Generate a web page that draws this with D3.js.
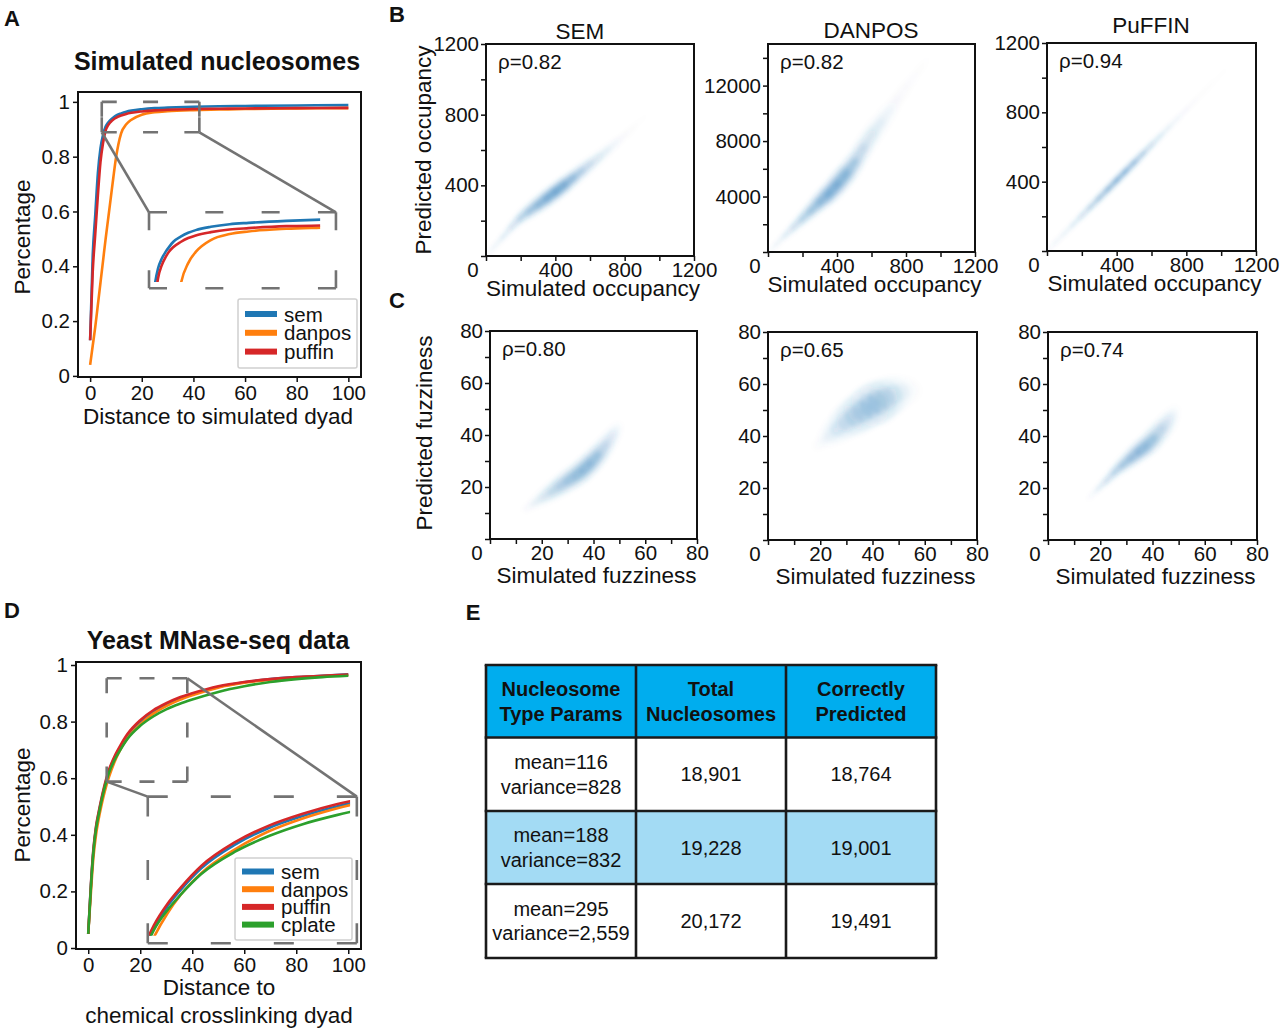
<!DOCTYPE html>
<html>
<head>
<meta charset="utf-8">
<script src="https://cdn.jsdelivr.net/npm/d3@7"></script>
<style>
  body { margin: 0; background: #fff; }
  text { font-family: "Liberation Sans", Arial, Helvetica, sans-serif; }
</style>
</head>
<body>
<svg id="fig" width="1280" height="1028"></svg>
<script>
// ---------- data ----------
// A: simulated nucleosomes, fraction of calls within distance of simulated dyad
const distA = [0, 1, 2, 3, 4, 5, 6, 7, 8, 9, 10, 12, 14, 16, 20, 25, 30, 40, 50, 60, 80, 100];
const semA = [0.13, 0.44, 0.59, 0.74, 0.83, 0.88, 0.91, 0.925, 0.935, 0.943, 0.95, 0.958, 0.964, 0.968, 0.973, 0.977, 0.979, 0.982, 0.984, 0.985, 0.987, 0.988];
const danposA = [0.04, 0.11, 0.18, 0.26, 0.34, 0.42, 0.5, 0.575, 0.65, 0.725, 0.795, 0.885, 0.918, 0.935, 0.953, 0.962, 0.966, 0.97, 0.972, 0.974, 0.976, 0.977];
const puffinA = [0.13, 0.38, 0.52, 0.66, 0.78, 0.85, 0.895, 0.915, 0.927, 0.936, 0.942, 0.95, 0.956, 0.96, 0.965, 0.969, 0.971, 0.974, 0.975, 0.976, 0.977, 0.978];

// D: yeast MNase-seq vs chemical crosslinking dyads
const distD = [0, 1, 2, 3, 4, 5, 6, 7, 8, 10, 12, 15, 20, 25, 30, 35, 40, 50, 60, 70, 80, 90, 100];
const semD = [0.05, 0.215, 0.345, 0.425, 0.475, 0.52, 0.56, 0.595, 0.625, 0.67, 0.705, 0.75, 0.8, 0.835, 0.86, 0.88, 0.896, 0.922, 0.939, 0.95, 0.957, 0.962, 0.967];
const danposD = [0.05, 0.19, 0.32, 0.4, 0.455, 0.5, 0.54, 0.575, 0.605, 0.655, 0.695, 0.74, 0.79, 0.828, 0.855, 0.876, 0.893, 0.92, 0.937, 0.948, 0.955, 0.96, 0.964];
const puffinD = [0.05, 0.22, 0.35, 0.43, 0.48, 0.525, 0.565, 0.6, 0.63, 0.675, 0.71, 0.755, 0.805, 0.84, 0.865, 0.885, 0.9, 0.925, 0.94, 0.95, 0.957, 0.962, 0.966];
const cplateD = [0.05, 0.21, 0.34, 0.42, 0.47, 0.515, 0.555, 0.59, 0.62, 0.662, 0.695, 0.738, 0.785, 0.818, 0.843, 0.862, 0.878, 0.905, 0.925, 0.94, 0.95, 0.957, 0.962];

// B/C: density ridges read off the scatter clouds [simulated, predicted, spread, relative density]
const semOcc = [[25,27,10,0.1],[75,82,13,0.16],[125,137,17,0.24],[175,192,22,0.34],[225,235,27,0.5],[275,272,31,0.66],[325,308,34,0.82],[375,345,35,0.97],[425,382,35,1.0],[475,421,33,0.8],[525,460,31,0.56],[575,500,29,0.38],[625,538,27,0.25],[675,578,25,0.16],[725,620,23,0.1],[775,662,20,0.06],[825,705,18,0.04],[875,752,15,0.025]];
const danposOcc = [[25,250,110,0.1],[75,900,170,0.15],[125,1500,240,0.24],[175,2100,320,0.36],[225,2700,400,0.5],[275,3300,480,0.64],[325,3900,560,0.78],[375,4500,630,0.9],[425,5250,700,0.85],[475,6000,740,0.62],[525,6950,760,0.4],[575,7950,760,0.25],[625,8850,720,0.15],[675,9700,660,0.1],[725,10550,600,0.06],[775,11450,540,0.04],[825,12300,480,0.03],[875,13100,420,0.02]];
const puffinOcc = [[25,25,7,0.1],[75,76,8,0.15],[125,127,10,0.22],[175,178,12,0.32],[225,229,14,0.46],[275,280,16,0.62],[325,331,17,0.8],[375,382,18,0.95],[425,433,18,1.0],[475,484,18,0.9],[525,535,17,0.7],[575,586,15,0.48],[625,637,14,0.32],[675,688,12,0.22],[725,739,11,0.15],[775,790,10,0.1],[825,841,9,0.07],[875,892,8,0.05],[925,943,7,0.04],[975,994,6,0.03],[1015,1034,5,0.02]];
const semFuzz = [[16,13,1.4,0.08],[19,15,1.8,0.15],[22,17,2.2,0.25],[25,19,2.6,0.36],[28,21,2.8,0.46],[31,23,3,0.55],[34,25,3.2,0.64],[37,27.5,3.4,0.72],[40,30.5,3.6,0.66],[43,34,3.6,0.46],[46,38,3.4,0.24],[48,41,3,0.1]];
const danposFuzz = [[21,38,2.2,0.06],[24,40.5,3.2,0.12],[27,43,4.2,0.22],[30,45.5,4.8,0.3],[33,47.5,5.2,0.37],[36,49.5,5.5,0.43],[39,51.5,5.6,0.47],[42,53,5.6,0.45],[45,54.5,5.2,0.36],[48,56,4.6,0.22],[51,57,3.8,0.11],[54,57.5,3,0.05]];
const puffinFuzz = [[18,18.5,0.8,0.12],[21,21.5,1.1,0.26],[24,24.5,1.5,0.38],[27,27.5,1.9,0.5],[30,30,2.3,0.58],[33,32.5,2.7,0.66],[36,35,3,0.7],[39,37.5,3.4,0.64],[42,41,3.7,0.46],[45,44.5,3.7,0.26],[47,47.5,3.3,0.1]];

// E: table
const tableHeader = [["Nucleosome", "Type Params"], ["Total", "Nucleosomes"], ["Correctly", "Predicted"]];
const typeParams = [["mean=116", "variance=828"], ["mean=188", "variance=832"], ["mean=295", "variance=2,559"]];
const totalNuc = ["18,901", "19,228", "20,172"];
const correctPred = ["18,764", "19,001", "19,491"];

// ---------- drawing ----------
const FONT = "'Liberation Sans', Arial, Helvetica, sans-serif";
const svg = d3.select("#fig");
const defs = svg.append("defs");
defs.append("filter").attr("id", "soft").attr("x", "-20%").attr("y", "-20%").attr("width", "140%").attr("height", "140%")
  .append("feGaussianBlur").attr("stdDeviation", 2);

const C = { sem: "#1f77b4", danpos: "#ff7f0e", puffin: "#d62728", cplate: "#2ca02c" };
const GRAY = "#737373";

function styleAxis(a, size) {
  a.select(".domain").remove();
  a.attr("font-size", size).attr("font-family", FONT);
  a.selectAll("line").attr("stroke", "#111").attr("stroke-width", 1.5);
  a.selectAll("text").attr("fill", "#111");
}

// dashed side with dashes sitting on both ends
function dashedSide(g, x0, y0, x1, y1, d, gap) {
  const L = Math.hypot(x1 - x0, y1 - y0);
  const n = Math.max(2, Math.round((L + gap) / (d + gap)));
  const gg = (L - n * d) / (n - 1);
  g.append("line").attr("x1", x0).attr("y1", y0).attr("x2", x1).attr("y2", y1)
    .attr("stroke", GRAY).attr("stroke-width", 2.6).attr("stroke-dasharray", `${d},${gg}`);
}
function dashedRect(g, x0, y0, x1, y1, d, gap) {
  dashedSide(g, x0, y0, x1, y0, d, gap);
  dashedSide(g, x1, y0, x1, y1, d, gap);
  dashedSide(g, x0, y1, x1, y1, d, gap);
  dashedSide(g, x0, y0, x0, y1, d, gap);
}

function linePanel(cfg) {
  const g = svg.append("g");
  const x = d3.scaleLinear().domain(cfg.xd).range([cfg.l, cfg.r]);
  const y = d3.scaleLinear().domain(cfg.yd).range([cfg.b, cfg.t]);

  const ax = g.append("g").attr("transform", `translate(0,${cfg.b})`)
    .call(d3.axisBottom(x).tickValues([0, 20, 40, 60, 80, 100]).tickSize(5).tickPadding(3));
  const ay = g.append("g").attr("transform", `translate(${cfg.l},0)`)
    .call(d3.axisLeft(y).tickValues([0, 0.2, 0.4, 0.6, 0.8, 1]).tickFormat(d3.format("~g")).tickSize(5).tickPadding(3));
  styleAxis(ax, 20.5); styleAxis(ay, 20.5);

  const line = d3.line().x(d => x(d[0])).y(d => y(d[1])).curve(d3.curveMonotoneX);
  const seriesData = cfg.series.map(s => ({ ...s, pts: cfg.dist.map((v, i) => [v, s.vals[i]]) }));
  seriesData.forEach(s => {
    g.append("path").datum(s.pts).attr("d", line)
      .attr("fill", "none").attr("stroke", s.color).attr("stroke-width", 2.6);
  });

  // zoomed inset
  const ins = cfg.inset;
  const sx0 = x(ins.src[0]), sx1 = x(ins.src[1]), sy0 = y(ins.src[3]), sy1 = y(ins.src[2]);
  const bx0 = x(ins.dst[0]), bx1 = x(ins.dst[1]), by0 = y(ins.dst[3]), by1 = y(ins.dst[2]);
  const ix = d3.scaleLinear().domain(ins.zx).range([bx0, bx1]);
  const iy = d3.scaleLinear().domain(ins.zy).range([by1, by0]);
  const clipId = cfg.id + "-clip";
  defs.append("clipPath").attr("id", clipId).append("rect")
    .attr("x", bx0).attr("y", by0).attr("width", ix(ins.xmax) - bx0).attr("height", iy(ins.ymin) - by0);
  const iline = d3.line().x(d => ix(d[0])).y(d => iy(d[1])).curve(d3.curveMonotoneX);
  const ig = g.append("g").attr("clip-path", `url(#${clipId})`);
  seriesData.forEach(s => {
    ig.append("path").datum(s.pts).attr("d", iline)
      .attr("fill", "none").attr("stroke", s.color).attr("stroke-width", 2.6);
  });
  dashedRect(g, sx0, sy0, sx1, sy1, ins.dashS[0], ins.dashS[1]);
  dashedRect(g, bx0, by0, bx1, by1, ins.dashB[0], ins.dashB[1]);
  const corner = { tl: [[sx0, sy0], [bx0, by0]], tr: [[sx1, sy0], [bx1, by0]], bl: [[sx0, sy1], [bx0, by0]], br: [[sx1, sy1], [bx1, by0]] };
  ins.links.forEach(k => {
    const [p, q] = corner[k];
    g.append("line").attr("x1", p[0]).attr("y1", p[1]).attr("x2", q[0]).attr("y2", q[1])
      .attr("stroke", GRAY).attr("stroke-width", 2.6);
  });

  // legend
  const lg = cfg.legend;
  g.append("rect").attr("x", lg.x).attr("y", lg.y).attr("width", lg.w).attr("height", lg.h)
    .attr("fill", "#fff").attr("fill-opacity", 0.88).attr("stroke", "#d0d0d0").attr("stroke-width", 1.5).attr("rx", 2);
  seriesData.forEach((s, i) => {
    const yy = lg.y + lg.first + i * lg.step;
    g.append("line").attr("x1", lg.x + 7).attr("x2", lg.x + 39).attr("y1", yy).attr("y2", yy)
      .attr("stroke", s.color).attr("stroke-width", 6);
    g.append("text").attr("x", lg.x + 46).attr("y", yy).attr("dominant-baseline", "central")
      .attr("font-size", 20.5).attr("fill", "#111").text(s.name);
  });

  g.append("rect").attr("x", cfg.l).attr("y", cfg.t).attr("width", cfg.r - cfg.l).attr("height", cfg.b - cfg.t)
    .attr("fill", "none").attr("stroke", "#111").attr("stroke-width", 2);

  // titles and labels
  g.append("text").attr("x", cfg.titleX).attr("y", cfg.titleY).attr("text-anchor", "middle")
    .attr("dominant-baseline", "central").attr("font-size", 25).attr("font-weight", "bold").attr("fill", "#111").text(cfg.title);
  g.append("text").attr("transform", `translate(${cfg.ylabX},${cfg.ylabY}) rotate(-90)`).attr("text-anchor", "middle")
    .attr("dominant-baseline", "central").attr("font-size", 22.5).attr("fill", "#111").text("Percentage");
  cfg.xlab.forEach((t, i) => {
    g.append("text").attr("x", cfg.xlabX).attr("y", cfg.xlabY + i * 28).attr("text-anchor", "middle")
      .attr("dominant-baseline", "central").attr("font-size", 22.5).attr("fill", "#111").text(t);
  });
}

linePanel({
  id: "A", l: 78, r: 361, t: 92, b: 377, xd: [-4.7, 104.9], yd: [-0.004, 1.036],
  dist: distA,
  series: [
    { name: "sem", color: C.sem, vals: semA },
    { name: "danpos", color: C.danpos, vals: danposA },
    { name: "puffin", color: C.puffin, vals: puffinA }
  ],
  inset: { src: [4.5, 42.3, 0.889, 1.0], dst: [22.8, 95.2, 0.32, 0.597], zx: [3.6, 53.2], zy: [0.88, 0.995],
           xmax: 49, ymin: 0.8895, dashS: [15, 20], dashB: [18, 40], links: ["bl", "br"] },
  legend: { x: 238, y: 299, w: 119, h: 69, first: 15, step: 18.8 },
  title: "Simulated nucleosomes", titleX: 217, titleY: 61,
  ylabX: 22, ylabY: 237, xlab: ["Distance to simulated dyad"], xlabX: 218, xlabY: 416
});

linePanel({
  id: "D", l: 76, r: 361, t: 662, b: 949, xd: [-4.7, 104.9], yd: [-0.0035, 1.0106],
  dist: distD,
  series: [
    { name: "sem", color: C.sem, vals: semD },
    { name: "danpos", color: C.danpos, vals: danposD },
    { name: "puffin", color: C.puffin, vals: puffinD },
    { name: "cplate", color: C.cplate, vals: cplateD }
  ],
  inset: { src: [7.1, 38.1, 0.588, 0.953], dst: [22.9, 103.3, 0.017, 0.535], zx: [7.1, 38], zy: [0.5925, 0.901],
           xmax: 37, ymin: 0.608, dashS: [15, 22], dashB: [20, 48], links: ["bl", "tr"] },
  legend: { x: 235, y: 858, w: 117, h: 82, first: 13.5, step: 17.7 },
  title: "Yeast MNase-seq data", titleX: 218, titleY: 640,
  ylabX: 22, ylabY: 805, xlab: ["Distance to", "chemical crosslinking dyad"], xlabX: 219, xlabY: 987
});

function scatterPanel(cfg) {
  const g = svg.append("g");
  const x = d3.scaleLinear().domain([0, cfg.xmax]).range([cfg.l, cfg.r]);
  const y = d3.scaleLinear().domain([0, cfg.ymax]).range([cfg.b, cfg.t]);

  // density cloud
  const ppy = Math.abs(y(1) - y(0));
  const pts = cfg.ridge.map(d => ({ px: x(d[0]), py: y(d[1]), sd: d[2] * ppy, den: d[3] }));
  const cg = g.append("g").attr("filter", "url(#soft)");
  [[1.3, 1.7, 0.15], [1.0, 0.95, 0.34]].forEach(([ka, kp, op]) => {
    pts.forEach((p, i) => {
      const a = pts[Math.max(0, i - 1)], b = pts[Math.min(pts.length - 1, i + 1)];
      const ang = Math.atan2(b.py - a.py, b.px - a.px);
      const span = (i === 0 || i === pts.length - 1) ? 1 : 2;
      const step = Math.hypot(b.px - a.px, b.py - a.py) / span;
      const ry = Math.max(1.2, p.sd * Math.abs(Math.cos(ang))) * kp;
      const rx = (step * 0.75 + ry * 0.3) * ka;
      cg.append("ellipse").attr("cx", 0).attr("cy", 0).attr("rx", rx).attr("ry", ry)
        .attr("transform", `translate(${p.px},${p.py}) rotate(${ang * 180 / Math.PI})`)
        .attr("fill", "#2b7bb9").attr("fill-opacity", p.den * op);
    });
  });

  const ax = g.append("g").attr("transform", `translate(0,${cfg.b})`)
    .call(d3.axisBottom(x).tickValues(d3.range(0, cfg.xmax + 1e-9, cfg.xstep)).tickSize(5).tickPadding(1)
      .tickFormat(d => cfg.xlabels.includes(d) ? d : ""));
  const ay = g.append("g").attr("transform", `translate(${cfg.l},0)`)
    .call(d3.axisLeft(y).tickValues(d3.range(0, cfg.ymax + 1e-9, cfg.ystep)).tickSize(5).tickPadding(2)
      .tickFormat(d => cfg.ylabels.includes(d) ? d : ""));
  styleAxis(ax, 20.5); styleAxis(ay, 20.5);

  g.append("text").attr("x", cfg.l - 13).attr("y", cfg.b + 13).attr("text-anchor", "middle")
    .attr("dominant-baseline", "central").attr("font-size", 20.5).attr("fill", "#111").text("0");
  g.append("rect").attr("x", cfg.l).attr("y", cfg.t).attr("width", cfg.r - cfg.l).attr("height", cfg.b - cfg.t)
    .attr("fill", "none").attr("stroke", "#111").attr("stroke-width", 2);
  g.append("text").attr("x", cfg.l + 12).attr("y", cfg.t + 17).attr("dominant-baseline", "central")
    .attr("font-size", 20.5).attr("fill", "#111").text(cfg.rho);
  if (cfg.title) g.append("text").attr("x", cfg.titleX).attr("y", cfg.titleY).attr("text-anchor", "middle")
    .attr("dominant-baseline", "central").attr("font-size", 22.5).attr("fill", "#111").text(cfg.title);
  g.append("text").attr("x", (cfg.l + cfg.r) / 2 + 3).attr("y", cfg.b + cfg.xlabDy).attr("text-anchor", "middle")
    .attr("dominant-baseline", "central").attr("font-size", 22.5).attr("fill", "#111").text(cfg.xlabel);
  if (cfg.ylabel) g.append("text").attr("transform", `translate(${cfg.ylabX},${cfg.ylabY}) rotate(-90)`)
    .attr("text-anchor", "middle").attr("dominant-baseline", "central").attr("font-size", 22.5).attr("fill", "#111").text(cfg.ylabel);
}

const occ = { xmax: 1200, xstep: 200, xlabels: [400, 800, 1200], xlabel: "Simulated occupancy", xlabDy: 32 };
const fuzz = { xmax: 80, ymax: 80, xstep: 10, ystep: 10, xlabels: [20, 40, 60, 80], ylabels: [20, 40, 60, 80], xlabel: "Simulated fuzziness", xlabDy: 36 };

scatterPanel({ ...occ, l: 486, r: 694, t: 44, b: 256, ymax: 1200, ystep: 200, ylabels: [400, 800, 1200],
  ridge: semOcc, rho: "ρ=0.82", title: "SEM", titleX: 580, titleY: 31,
  ylabel: "Predicted occupancy", ylabX: 423, ylabY: 150 });
scatterPanel({ ...occ, l: 768, r: 975, t: 44, b: 252, ymax: 15000, ystep: 2000, ylabels: [4000, 8000, 12000],
  ridge: danposOcc, rho: "ρ=0.82", title: "DANPOS", titleX: 871, titleY: 30 });
scatterPanel({ ...occ, l: 1047, r: 1256, t: 43, b: 251, ymax: 1200, ystep: 200, ylabels: [400, 800, 1200],
  ridge: puffinOcc, rho: "ρ=0.94", title: "PuFFIN", titleX: 1151, titleY: 25 });

scatterPanel({ ...fuzz, l: 490, r: 697, t: 331, b: 539, ridge: semFuzz, rho: "ρ=0.80",
  ylabel: "Predicted fuzziness", ylabX: 424, ylabY: 433 });
scatterPanel({ ...fuzz, l: 768, r: 977, t: 332, b: 540, ridge: danposFuzz, rho: "ρ=0.65" });
scatterPanel({ ...fuzz, l: 1048, r: 1257, t: 332, b: 540, ridge: puffinFuzz, rho: "ρ=0.74" });

// ---------- table E ----------
(function table() {
  const g = svg.append("g");
  const colX = [486, 636, 786, 936];
  const rowY = [665, 737.5, 811, 884, 958];
  const fills = ["#00adee", "#ffffff", "#a3dbf4", "#ffffff"];
  const rows = [tableHeader].concat(typeParams.map((p, i) => [p, [totalNuc[i]], [correctPred[i]]]));
  rows.forEach((row, r) => {
    row.forEach((cell, c) => {
      g.append("rect").attr("x", colX[c]).attr("y", rowY[r]).attr("width", colX[c + 1] - colX[c])
        .attr("height", rowY[r + 1] - rowY[r]).attr("fill", fills[r]);
      const cx = (colX[c] + colX[c + 1]) / 2, cy = (rowY[r] + rowY[r + 1]) / 2;
      cell.forEach((t, k) => {
        g.append("text").attr("x", cx).attr("y", cy + (k - (cell.length - 1) / 2) * 24.5)
          .attr("text-anchor", "middle").attr("dominant-baseline", "central")
          .attr("font-size", 20).attr("font-weight", r === 0 ? "bold" : "normal").attr("fill", "#111").text(t);
      });
    });
  });
  colX.forEach(xx => g.append("line").attr("x1", xx).attr("x2", xx).attr("y1", rowY[0]).attr("y2", rowY[4])
    .attr("stroke", "#1a1a1a").attr("stroke-width", 2.6));
  rowY.forEach(yy => g.append("line").attr("x1", colX[0] - 1.3).attr("x2", colX[3] + 1.3).attr("y1", yy).attr("y2", yy)
    .attr("stroke", "#1a1a1a").attr("stroke-width", 2.6));
})();

// panel letters
[["A", 12, 18], ["B", 397, 14], ["C", 397, 300], ["D", 12, 610], ["E", 473, 612]].forEach(([t, x, y]) => {
  svg.append("text").attr("x", x).attr("y", y).attr("text-anchor", "middle").attr("dominant-baseline", "central")
    .attr("font-size", 22).attr("font-weight", "bold").attr("fill", "#111").text(t);
});
</script>
</body>
</html>
